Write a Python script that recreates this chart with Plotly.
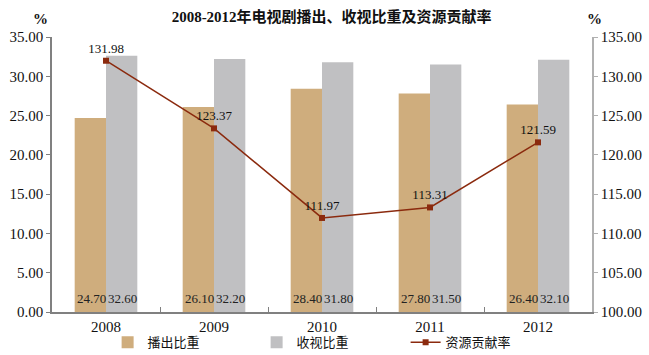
import plotly.graph_objects as go

years = ["2008", "2009", "2010", "2011", "2012"]
broadcast_share = [24.70, 26.10, 28.40, 27.80, 26.40]
viewing_share = [32.60, 32.20, 31.80, 31.50, 32.10]
contribution = [131.98, 123.37, 111.97, 113.31, 121.59]
left_ticks = [0, 5, 10, 15, 20, 25, 30, 35]
right_ticks = [100, 105, 110, 115, 120, 125, 130, 135]

serif = "Liberation Serif, Times New Roman, Noto Sans CJK SC, serif"

fig = go.Figure()
fig.add_trace(go.Bar(
    x=years, y=broadcast_share, name="播出比重",
    marker=dict(color="#CFAD7D", line=dict(width=0)),
))
fig.add_trace(go.Bar(
    x=years, y=viewing_share, name="收视比重",
    marker=dict(color="#C0C0C2", line=dict(width=0)),
))
fig.add_trace(go.Scatter(
    x=years, y=contribution, name="资源贡献率", yaxis="y2",
    mode="lines+markers+text",
    line=dict(color="#8B2A0E", width=1.5),
    marker=dict(symbol="square", size=6, color="#8B2A0E"),
    text=[f"{v:.2f}" for v in contribution],
    textposition="top center",
    textfont=dict(family=serif, size=13, color="#111111"),
    cliponaxis=False,
))

annotations = []
for i, (a, b) in enumerate(zip(broadcast_share, viewing_share)):
    for val, shift in ((a, -15), (b, 16)):
        annotations.append(dict(
            x=i, y=0, xref="x", yref="y", text=f"{val:.2f}",
            xshift=shift, yshift=14, xanchor="center", yanchor="middle",
            showarrow=False, font=dict(family=serif, size=13, color="#222222")))
annotations += [
    dict(text="<b>%</b>", xref="paper", yref="paper", x=-0.022, y=1.03,
         xanchor="center", yanchor="bottom", showarrow=False,
         font=dict(family=serif, size=15)),
    dict(text="<b>%</b>", xref="paper", yref="paper", x=1.004, y=1.03,
         xanchor="center", yanchor="bottom", showarrow=False,
         font=dict(family=serif, size=15)),
]

fig.update_layout(
    width=649, height=355,
    margin=dict(l=52, r=57, t=37, b=43),
    paper_bgcolor="white", plot_bgcolor="white",
    font=dict(family=serif, size=13, color="#111111"),
    barmode="group", bargap=0.42, bargroupgap=0,
    title=dict(text="<b>2008-2012年电视剧播出、收视比重及资源贡献率</b>",
               x=0.511, xanchor="center", y=0.952, yanchor="middle",
               font=dict(family=serif, size=15, color="#111111")),
    xaxis=dict(type="category", categoryorder="array", categoryarray=years,
               range=[-0.5, len(years) - 0.5],
               showline=True, linecolor="#808080", linewidth=1.5,
               ticks="inside", tickson="boundaries", ticklen=5, tickcolor="#808080",
               tickfont=dict(family=serif, size=15), tickangle=0,
               showgrid=False, automargin=False),
    yaxis=dict(range=[0, 35], tickvals=left_ticks,
               ticktext=[f"{v:.2f}" for v in left_ticks],
               showline=True, linecolor="#808080", linewidth=1.5,
               ticks="outside", ticklen=4, tickcolor="#808080",
               showgrid=False, zeroline=False, automargin=False,
               tickfont=dict(family=serif, size=15)),
    yaxis2=dict(range=[100, 135], tickvals=right_ticks,
                ticktext=[f"{v:.2f}" for v in right_ticks],
                overlaying="y", side="right",
                showline=True, linecolor="#B0B0B0", linewidth=1.5,
                ticks="outside", ticklen=4, tickcolor="#B0B0B0",
                showgrid=False, zeroline=False, automargin=False,
                tickfont=dict(family=serif, size=15)),
    legend=dict(orientation="h", x=0.103, xanchor="left",
                yref="container", y=0.078, yanchor="top",
                font=dict(family=serif, size=13), itemwidth=30,
                entrywidth=104, entrywidthmode="pixels",
                traceorder="normal", bgcolor="rgba(0,0,0,0)"),
    annotations=annotations,
)

fig.write_html("out.html", config={"displayModeBar": False},
               post_script="document.body.style.margin='0px';")
